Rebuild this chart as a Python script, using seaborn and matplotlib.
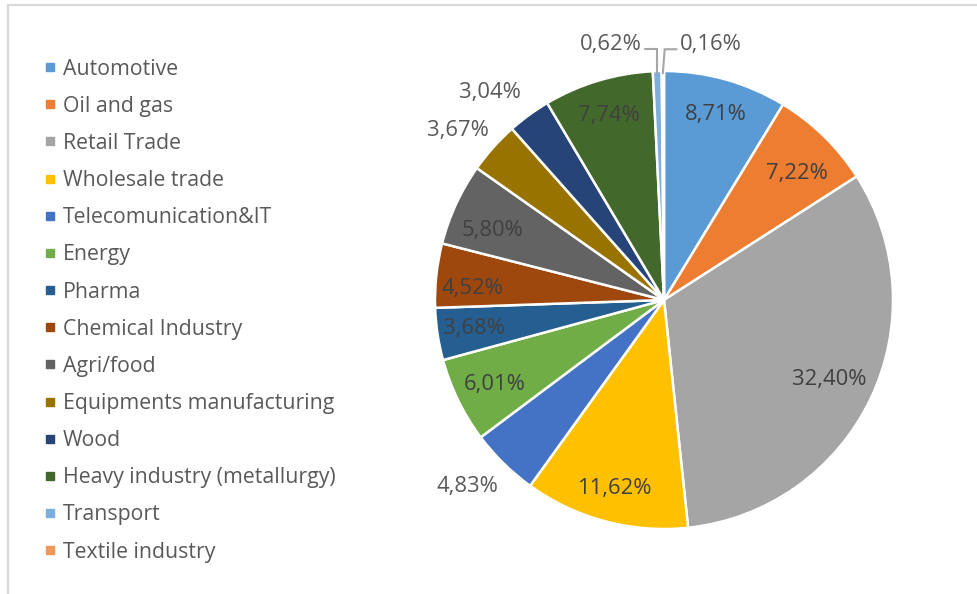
import numpy as np
import matplotlib
matplotlib.use("Agg")
import matplotlib.pyplot as plt
from matplotlib.lines import Line2D
import seaborn as sns

categories = ["Automotive", "Oil and gas", "Retail Trade", "Wholesale trade",
              "Telecomunication&IT", "Energy", "Pharma", "Chemical Industry",
              "Agri/food", "Equipments manufacturing", "Wood",
              "Heavy industry (metallurgy)", "Transport", "Textile industry"]
shares = [8.71, 7.22, 32.40, 11.62, 4.83, 6.01, 3.68, 4.52, 5.80, 3.67, 3.04, 7.74, 0.62, 0.16]
value_labels = ["8,71%", "7,22%", "32,40%", "11,62%", "4,83%", "6,01%", "3,68%",
                "4,52%", "5,80%", "3,67%", "3,04%", "7,74%", "0,62%", "0,16%"]

colors = sns.color_palette(["#5B9BD5", "#ED7D31", "#A5A5A5", "#FFC000", "#4472C4",
                            "#70AD47", "#255E91", "#9E480E", "#636363", "#997300",
                            "#264478", "#43682B", "#7CAFDD", "#F1975A"])

sns.set_theme(style="white")
plt.rcParams['font.family'] = ['Open Sans', 'DejaVu Sans']

W, H = 978, 594
fig = plt.figure(figsize=(W / 100, H / 100), dpi=100)
fig.patch.set_facecolor("white")

# border lines
fig.add_artist(Line2D([8 / W, 8 / W], [0, 1 - 5 / H], color="#D9D9D9", lw=1.6,
                      transform=fig.transFigure))
fig.add_artist(Line2D([8 / W, 977 / W], [1 - 5 / H, 1 - 5 / H], color="#D9D9D9", lw=1.6,
                      transform=fig.transFigure))

cx, cy, R = 664, 300, 229
ax = fig.add_axes([(cx - R) / W, (H - cy - R) / H, 2 * R / W, 2 * R / H])
wedges, _ = ax.pie(shares, colors=colors, startangle=90, counterclock=False,
                   radius=1.0, wedgeprops=dict(edgecolor="white", linewidth=1.8))
ax.set_xlim(-1, 1)
ax.set_ylim(-1, 1)
ax.set_aspect("equal")
ax.axis("off")

# label placement style: radial distance (fraction of radius) + pixel nudge; None = leader line
label_dist = [0.84, 0.84, 0.80, 0.84, 1.18, 0.84, 0.84, 0.84, 0.84, 1.166, 1.18, 0.84, None, None]
label_nudge = [(0, 0), (-2, -11), (0, 0), (0, -3), (-7, 6), (4, 0), (0, 0),
               (0, -9), (3, -11), (-7, -8), (-15, -11), (0, 0), (0, 0), (0, 0)]
inside_color = "#404040"
outside_color = "#595959"
fs_lab = 15.8
fs_leg = 15.3

for w, lab, d, (nx, ny) in zip(wedges, value_labels, label_dist, label_nudge):
    mid = np.deg2rad((w.theta1 + w.theta2) / 2)
    if d is not None:
        col = inside_color if d < 1 else outside_color
        ax.text(d * np.cos(mid) + nx / R, d * np.sin(mid) + ny / R, lab,
                ha="center", va="center", fontsize=fs_lab, color=col, clip_on=False)

# leader-line labels for the two tiny slices
tiny = [(12, -1, 0.0), (13, 1, 0.008)]
for idx, side, shift in tiny:
    w = wedges[idx]
    mid = np.deg2rad((w.theta1 + w.theta2) / 2)
    x0, y0 = np.cos(mid) * 0.99, np.sin(mid) * 0.99
    ye = 1.095
    xe = x0 + side * shift
    xh = xe + side * 0.052
    ax.plot([x0, xe, xh], [y0, ye, ye], color="#A6A6A6", lw=1.5, clip_on=False,
            solid_joinstyle="miter")
    ax.text(xh + side * 0.015, ye + 0.022, value_labels[idx],
            ha="left" if side > 0 else "right", va="center",
            fontsize=fs_lab, color=outside_color, clip_on=False)

handles = [Line2D([0], [0], marker="s", linestyle="none", markersize=6,
                  markerfacecolor=c, markeredgecolor=c) for c in colors]
fig.legend(handles, categories, loc="upper left", bbox_to_anchor=(33 / W, 1 - 48 / H),
           frameon=False, fontsize=fs_leg, labelcolor="#595959", handlelength=0.6,
           handletextpad=0.3, labelspacing=0.76, borderpad=0)

fig.savefig("out.png", dpi=100, facecolor="white")
